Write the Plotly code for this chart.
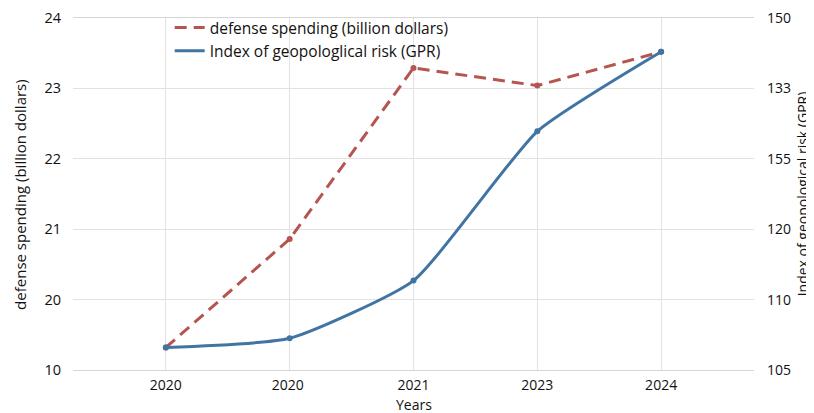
import plotly.graph_objects as go

years = ["2020", "2020 ", "2021", "2023", "2024"]
x_pos = [0, 1, 2, 3, 4]
# values in axis-position units (tick positions 0..5 carry the printed labels)
defense_spending = [0.32, 1.86, 4.29, 4.04, 4.52]
gpr_index = [0.32, 0.45, 1.27, 3.39, 4.52]
left_tick_vals = [0, 1, 2, 3, 4, 5]
left_tick_text = ["10", "20", "21", "22", "23", "24"]
right_tick_text = ["105", "110", "120", "155", "133", "150"]

red = "#b5554f"
blue = "#3f74a3"
font = "Open Sans, Lato, sans-serif"

fig = go.Figure()
# lines (shown in legend)
fig.add_trace(go.Scatter(
    x=x_pos, y=defense_spending, mode="lines",
    name="defense spending (billion dollars)",
    line=dict(color=red, width=3, dash="12px,7px"),
))
fig.add_trace(go.Scatter(
    x=x_pos, y=gpr_index, mode="lines", yaxis="y2",
    name="Index of geopologlical risk (GPR)",
    line=dict(color=blue, width=3, shape="spline", smoothing=0.5),
))
# point markers
fig.add_trace(go.Scatter(
    x=x_pos, y=defense_spending, mode="markers", showlegend=False,
    marker=dict(size=6, color=red), hoverinfo="skip",
))
fig.add_trace(go.Scatter(
    x=x_pos, y=gpr_index, mode="markers", yaxis="y2", showlegend=False,
    marker=dict(size=6, color=blue), hoverinfo="skip",
))

# the page adds an 8px body margin, so the figure is sized to fill the rest
fig.update_layout(
    width=806, height=405,
    margin=dict(l=65, r=60, t=10, b=43, autoexpand=False),
    paper_bgcolor="white", plot_bgcolor="white",
    font=dict(family=font, size=14, color="#222"),
    showlegend=True,
    legend=dict(x=0.142, y=1.02, xanchor="left", yanchor="top",
                bgcolor="rgba(255,255,255,0)", font=dict(size=15.5, color="#111"),
                tracegroupgap=0, itemwidth=30),
    xaxis=dict(
        range=[-0.75, 4.75], tickvals=x_pos, ticktext=years,
        showgrid=True, gridcolor="#e2e2e2", gridwidth=1,
        showline=True, linecolor="#d6d6d6", mirror=True,
        zeroline=False, ticks="", ticklabelstandoff=2,
        tickfont=dict(size=14, color="#111"),
    ),
    yaxis=dict(
        range=[0, 5], tickvals=left_tick_vals, ticktext=left_tick_text,
        showgrid=True, gridcolor="#e2e2e2", gridwidth=1,
        zeroline=False, ticks="", tickfont=dict(size=14.5, color="#111"),
        ticklabelstandoff=11, ticklabeloverflow="allow",
    ),
    yaxis2=dict(
        range=[0, 5], tickvals=left_tick_vals, ticktext=right_tick_text,
        overlaying="y", side="right", showgrid=False, zeroline=False,
        ticks="", tickfont=dict(size=14, color="#111"), ticklabelstandoff=12,
        ticklabeloverflow="allow",
    ),
    annotations=[
        dict(text="Years", xref="paper", yref="paper", x=0.5, y=-0.099,
             yanchor="middle", showarrow=False, font=dict(size=14, color="#111")),
        dict(text="defense spending (billion dollars)", xref="paper", yref="paper",
             x=-0.078, y=0.5, xanchor="center", yanchor="middle", textangle=-90,
             showarrow=False, font=dict(size=15, color="#111")),
        dict(text="Index of geopological risk (GPR)", xref="paper", yref="paper",
             x=1.071, y=0.5, xanchor="center", yanchor="middle", textangle=-90,
             showarrow=False, font=dict(size=14, color="#111")),
    ],
)

fig.write_html("out.html")
